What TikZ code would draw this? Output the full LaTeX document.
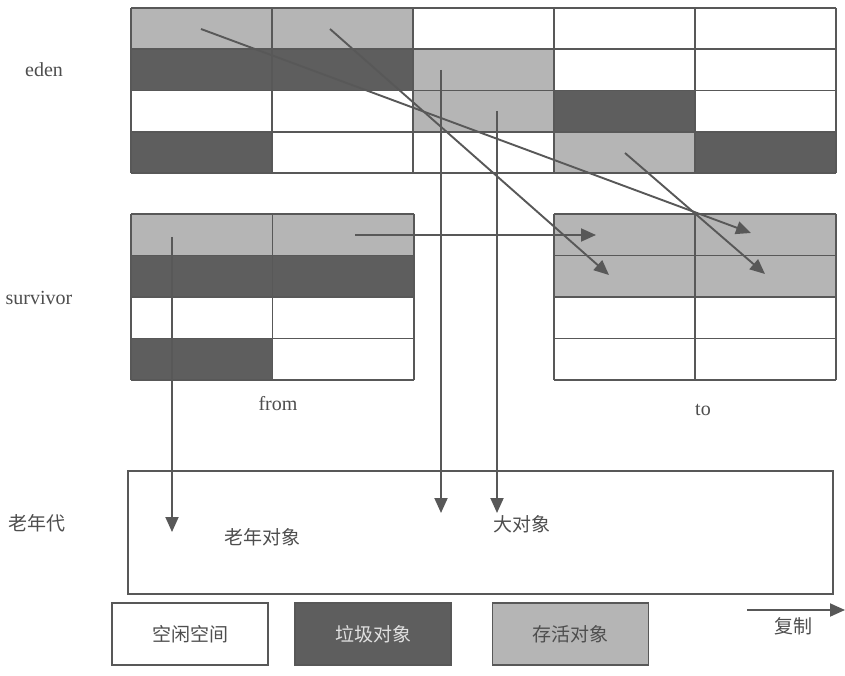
\documentclass[tikz,border=0pt]{standalone}
\usepackage{fontspec}
\setmainfont{Liberation Serif}
\newfontfamily\cjk{Noto Sans CJK SC}
\usetikzlibrary{arrows.meta}
\definecolor{gc}{HTML}{B5B5B5}
\definecolor{dc}{HTML}{5E5E5E}
\definecolor{lc}{HTML}{585858}
\definecolor{tc}{HTML}{4E4E4E}
\begin{document}
\begin{tikzpicture}[x=1pt,y=-1pt,
  cellline/.style={draw=lc,line width=1.9pt},
  arr/.style={draw=lc,line width=1.9pt,-{Triangle[length=15pt,width=13pt]}},
  lab/.style={font=\fontsize{20}{20}\selectfont,text=tc,inner sep=0pt},
  clab/.style={font=\cjk\fontsize{19}{19}\selectfont,text=tc,inner sep=0pt},
  legbox/.style={draw=lc,line width=1.9pt,minimum width=156pt,minimum height=62pt,inner sep=0pt,font=\cjk\fontsize{19}{19}\selectfont}]
\useasboundingbox (0,0) rectangle (845,676);
\fill[white] (0,0) rectangle (845,676);

% ---- eden ----
\foreach \c/\r/\col in {0/0/gc,1/0/gc,0/1/dc,1/1/dc,2/1/gc,2/2/gc,3/2/dc,0/3/dc,3/3/gc,4/3/dc}
  \fill[\col] ({131+141*\c},{8+41.25*\r}) rectangle ++(141,41.25);
\foreach \i in {0,...,5} \draw[cellline] ({131+141*\i},8) -- ({131+141*\i},173);
\foreach \j in {0,...,4} \draw[cellline] (131,{8+41.25*\j}) -- (836,{8+41.25*\j});

% ---- survivor from ----
\foreach \c/\r/\col in {0/0/gc,1/0/gc,0/1/dc,1/1/dc,0/3/dc}
  \fill[\col] ({131+141.5*\c},{214+41.5*\r}) rectangle ++(141.5,41.5);
\foreach \i in {0,1,2} \draw[cellline] ({131+141.5*\i},214) -- ({131+141.5*\i},380);
\foreach \j in {0,...,4} \draw[cellline] (131,{214+41.5*\j}) -- (414,{214+41.5*\j});

% ---- survivor to ----
\foreach \c/\r/\col in {0/0/gc,1/0/gc,0/1/gc,1/1/gc}
  \fill[\col] ({554+141*\c},{214+41.5*\r}) rectangle ++(141,41.5);
\foreach \i in {0,1,2} \draw[cellline] ({554+141*\i},214) -- ({554+141*\i},380);
\foreach \j in {0,...,4} \draw[cellline] (554,{214+41.5*\j}) -- (836,{214+41.5*\j});

% ---- old generation ----
\node[draw=lc,line width=1.9pt,minimum width=705pt,minimum height=123pt,inner sep=0pt] (old) at (480.5,532.5) {};

% ---- labels ----
\node[lab] (eden) at (44,70) {eden};
\node[lab] (surv) at (39,298) {survivor};
\node[lab] (from) at (278,404) {from};
\node[lab] (to) at (703,410) {to};
\node[clab] (oldlab) at (37,523) {老年代};
\node[clab] (oldobj) at (262,537) {老年对象};
\node[clab] (bigobj) at (522,524) {大对象};

% ---- legend ----
\node[legbox,fill=white,text=tc] (free) at (190,634) {空闲空间};
\node[legbox,fill=dc,text=white!88!black] (garb) at (373,634) {垃圾对象};
\node[legbox,fill=gc,text=tc] (live) at (570.5,634) {存活对象};
\node[clab] (copy) at (793,626) {复制};

% ---- arrow end points ----
\coordinate (s1) at (172,237);  \coordinate (e1) at (172,532);
\coordinate (s2) at (441,70);   \coordinate (e2) at (441,513);
\coordinate (s3) at (497,111);  \coordinate (e3) at (497,513);
\coordinate (s4) at (355,235);  \coordinate (e4) at (596,235);
\coordinate (s5) at (330,29);   \coordinate (e5) at (609,275);
\coordinate (s6) at (201,29);   \coordinate (e6) at (751,233);
\coordinate (s7) at (625,153);  \coordinate (e7) at (765,274);
\coordinate (s8) at (747,610);  \coordinate (e8) at (845,610);

\draw[arr] (s1) -- (e1);
\draw[arr] (s2) -- (e2);
\draw[arr] (s3) -- (e3);
\draw[arr] (s4) -- (e4);
\draw[arr] (s5) -- (e5);
\draw[arr] (s6) -- (e6);
\draw[arr] (s7) -- (e7);
\draw[arr] (s8) -- (e8);
\end{tikzpicture}
\end{document}
